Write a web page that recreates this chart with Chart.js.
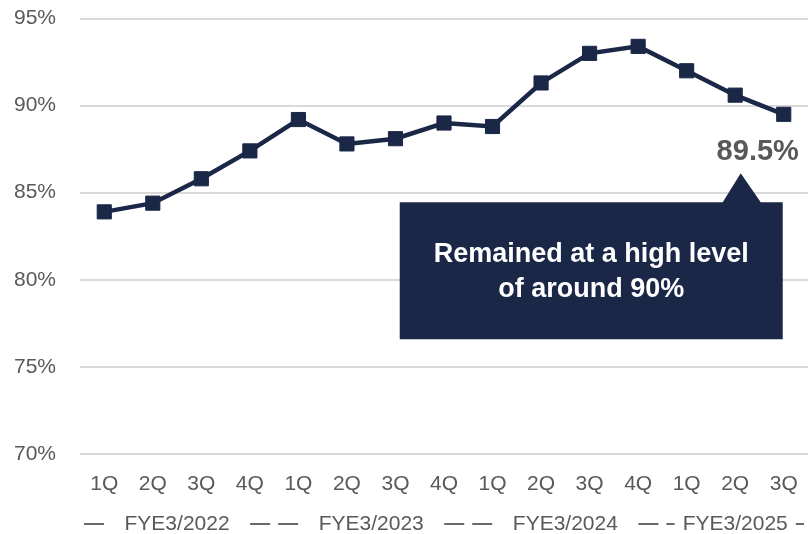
<!DOCTYPE html>
<html>
<head>
<meta charset="utf-8">
<script src="https://cdn.jsdelivr.net/npm/chart.js@4.4.1/dist/chart.umd.min.js"></script>
<style>
  html,body{margin:0;padding:0;background:#fff}
  #wrap{width:808px;height:534px;position:relative}
</style>
</head>
<body>
<div id="wrap"><canvas id="ratioChart"></canvas></div>
<script>
// quarterly ratio, FYE3/2022 1Q .. FYE3/2025 3Q
const quarters=['1Q','2Q','3Q','4Q','1Q','2Q','3Q','4Q','1Q','2Q','3Q','4Q','1Q','2Q','3Q'];
const fiscalYears=['FYE3/2022','FYE3/2023','FYE3/2024','FYE3/2025'];
const quartersPerYear=[4,4,4,3];
const ratio=[83.9,84.4,85.8,87.4,89.2,87.8,88.1,89.0,88.8,91.3,93.0,93.4,92.0,90.6,89.5];
const yTicks=[70,75,80,85,90,95];
const calloutLines=['Remained at a high level','of around 90%'];

const NAVY='#1a2747', GREY='#595959', FONT='"Liberation Sans", Arial, sans-serif';

// fiscal-year row under the quarter labels, with Excel-style bracket dashes
const yearAxis={
  id:'yearAxis',
  afterDraw(chart){
    const {ctx}=chart, xs=chart.scales.x;
    const half=(xs.getPixelForValue(1)-xs.getPixelForValue(0))/2;
    ctx.save();
    ctx.font='21px '+FONT; ctx.fillStyle=GREY; ctx.strokeStyle='#6b6b6b'; ctx.lineWidth=2;
    ctx.textAlign='center'; ctx.textBaseline='middle';
    let start=0; const y=524;
    fiscalYears.forEach((fy,i)=>{
      const n=quartersPerYear[i];
      const x0=xs.getPixelForValue(start)-half, x1=xs.getPixelForValue(start+n-1)+half;
      const cx=(x0+x1)/2, w=ctx.measureText(fy).width;
      const ts=cx-w/2, te=cx+w/2;
      ctx.fillText(fy,cx,y);
      const seg=(a,b)=>{ if(b>a){ ctx.beginPath(); ctx.moveTo(a,y); ctx.lineTo(b,y); ctx.stroke(); } };
      seg(x0+4,Math.min(x0+24,ts-8));
      seg(Math.max(x1-24,te+8),x1-4);
      start+=n;
    });
    ctx.restore();
  }
};

// value label on the latest quarter and the speech-box callout
const callout={
  id:'callout',
  afterDatasetsDraw(chart){
    const {ctx}=chart;
    const last=chart.getDatasetMeta(0).data[ratio.length-1];
    const px=last.x, py=last.y;
    ctx.save();
    ctx.font='bold 29px '+FONT; ctx.fillStyle=GREY;
    ctx.textAlign='center'; ctx.textBaseline='middle';
    ctx.fillText(ratio[ratio.length-1].toFixed(1)+'%',px-26,py+38);

    const left=px-384, right=px-1, top=py+88, bottom=py+225;
    ctx.fillStyle=NAVY;
    ctx.beginPath();
    ctx.moveTo(left,top); ctx.lineTo(px-61,top); ctx.lineTo(px-43,py+59); ctx.lineTo(px-23,top);
    ctx.lineTo(right,top); ctx.lineTo(right,bottom); ctx.lineTo(left,bottom); ctx.closePath();
    ctx.fill();
    ctx.font='bold 27px '+FONT; ctx.fillStyle='#ffffff';
    const cx=(left+right)/2;
    calloutLines.forEach((t,i)=>ctx.fillText(t,cx,top+52+i*35));
    ctx.restore();
  }
};

new Chart(document.getElementById('ratioChart'),{
  type:'line',
  data:{labels:quarters,datasets:[{
    data:ratio,
    borderColor:NAVY,backgroundColor:NAVY,borderWidth:4.5,
    pointStyle:'rect',pointRadius:10,pointHoverRadius:10,
    pointBackgroundColor:NAVY,pointBorderColor:NAVY,pointBorderWidth:1,
    tension:0,clip:false
  }]},
  options:{
    responsive:true,maintainAspectRatio:false,animation:false,
    layout:{autoPadding:false,padding:{top:18.5,right:0,left:0,bottom:0}},
    plugins:{legend:{display:false},tooltip:{enabled:false}},
    scales:{
      x:{
        offset:true,
        grid:{display:false,drawTicks:false},border:{display:false},
        ticks:{color:GREY,font:{size:21,family:FONT},padding:18,maxRotation:0,autoSkip:false},
        afterFit(s){ s.height=80; s.paddingLeft=0; s.paddingRight=0; }
      },
      y:{
        min:yTicks[0],max:yTicks[yTicks.length-1],
        afterBuildTicks(s){ s.ticks=yTicks.map(v=>({value:v})); },
        grid:{color:'#d9d9d9',lineWidth:2,drawTicks:false},border:{display:false},
        ticks:{color:GREY,font:{size:21,family:FONT},padding:24,callback:v=>v+'%'},
        afterFit(s){ s.width=80; s.paddingTop=0; s.paddingBottom=0; }
      }
    }
  },
  plugins:[yearAxis,callout]
});
</script>
</body>
</html>
